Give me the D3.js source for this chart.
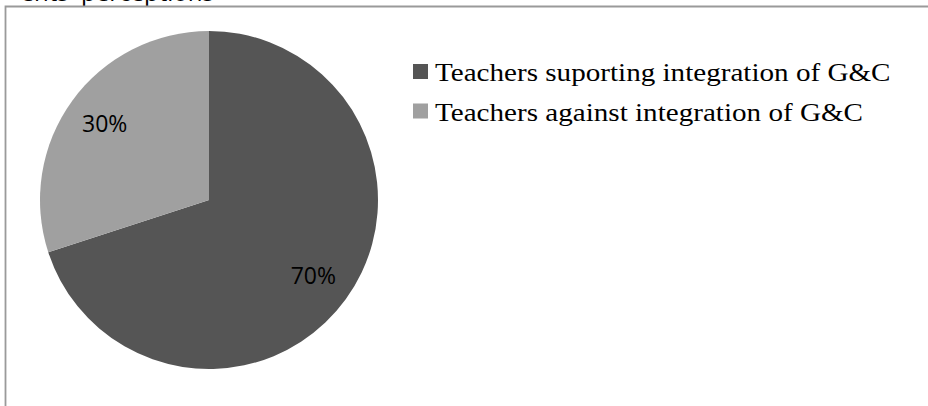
<!DOCTYPE html>
<html>
<head>
<meta charset="utf-8">
<script src="https://cdn.jsdelivr.net/npm/d3@7"></script>
<style>
  html, body { margin: 0; padding: 0; background: #ffffff; }
  svg { display: block; }
</style>
</head>
<body>
<svg id="chart" width="928" height="406"></svg>
<script>
// Data
const categories = ["Teachers suporting integration of G&C", "Teachers against integration of G&C"];
const values = [70, 30];
const valueLabels = ["70%", "30%"];
const colors = ["#555555", "#a0a0a0"];
const titleTail = ["ents'", "perceptions"];

const svg = d3.select("#chart");
const W = 928, H = 406;

// Cut-off title text at the top
svg.append("text")
  .attr("x", 74).attr("y", 0.5)
  .attr("text-anchor", "end")
  .attr("font-family", "'Open Sans', sans-serif")
  .attr("font-size", 24)
  .attr("fill", "#000")
  .text(titleTail[0]);
svg.append("text")
  .attr("x", 81).attr("y", 0.5)
  .attr("font-family", "'Open Sans', sans-serif")
  .attr("font-size", 24)
  .attr("fill", "#000")
  .text(titleTail[1]);

// Chart frame (left and top edges visible)
svg.append("path")
  .attr("d", `M5.5,${H} V6.5 H${W}`)
  .attr("fill", "none")
  .attr("stroke", "#9a9a9a")
  .attr("stroke-width", 1.8);

// Pie
const cx = 209, cy = 200, r = 169;
const pie = d3.pie().sort(null).value(d => d)(values);
const arc = d3.arc().innerRadius(0).outerRadius(r);
const labelArc = d3.arc().innerRadius(129).outerRadius(129);

const g = svg.append("g").attr("transform", `translate(${cx},${cy})`);
g.selectAll("path.slice")
  .data(pie)
  .join("path")
  .attr("class", "slice")
  .attr("d", arc)
  .attr("fill", (d, i) => colors[i]);

g.selectAll("text.lbl")
  .data(pie)
  .join("text")
  .attr("class", "lbl")
  .attr("transform", d => `translate(${labelArc.centroid(d)})`)
  .attr("text-anchor", "middle")
  .attr("dy", "0.36em")
  .attr("font-family", "'Open Sans', sans-serif")
  .attr("font-size", 23)
  .attr("fill", "#000")
  .text((d, i) => valueLabels[i]);

// Legend
const lg = svg.append("g").attr("transform", "translate(413,64)");
const items = lg.selectAll("g.item")
  .data(categories)
  .join("g")
  .attr("class", "item")
  .attr("transform", (d, i) => `translate(0,${i * 39.5})`);
items.append("rect")
  .attr("x", 0).attr("y", 0)
  .attr("width", 15).attr("height", 15)
  .attr("fill", (d, i) => colors[i]);
items.append("text")
  .attr("transform", "translate(22,17) scale(1.12,1)")
  .attr("font-family", "'Liberation Serif', 'Times New Roman', serif")
  .attr("font-size", 26)
  .attr("fill", "#000")
  .text(d => d);
</script>
</body>
</html>
